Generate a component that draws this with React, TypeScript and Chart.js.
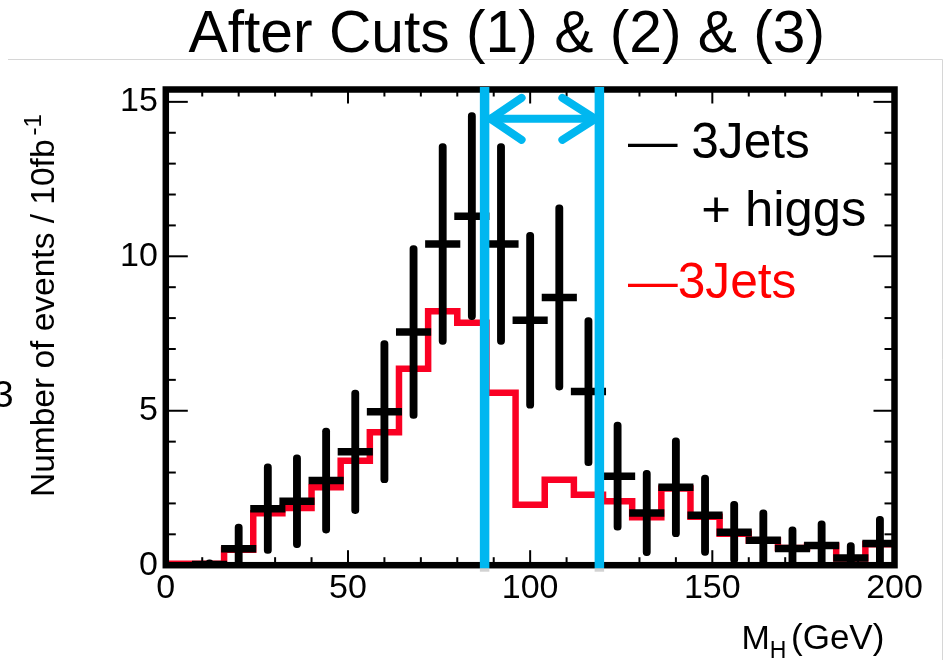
import React, { useEffect, useRef } from 'react';
import { Chart, registerables } from 'chart.js';

Chart.register(...registerables);

// ---- data ----
const binEdges = [0, 8, 16, 24, 32, 40, 48, 56, 64, 72, 80, 88, 96, 104, 112, 120, 128, 136, 144, 152, 160, 168, 176, 184, 192, 200];
const jetsOnly = [0.05, 0.05, 0.5, 1.68, 1.85, 2.52, 3.38, 4.3, 6.36, 8.22, 7.85, 5.58, 1.96, 2.77, 2.28, 2.07, 1.55, 2.48, 1.57, 1.02, 0.8, 0.56, 0.63, 0.22, 0.68];
const binCenters = [12, 20, 28, 36, 44, 52, 60, 68, 76, 84, 92, 100, 108, 116, 124, 132, 140, 148, 156, 164, 172, 180, 188, 196];
const jetsHiggs = [0.02, 0.53, 1.83, 2.07, 2.74, 3.67, 4.97, 7.55, 10.4, 11.3, 10.4, 7.93, 8.67, 5.62, 2.88, 1.69, 2.52, 1.62, 1.07, 0.81, 0.54, 0.64, 0.23, 0.7];
const jetsHiggsErr = [0.15, 0.8, 1.45, 1.5, 1.7, 2.0, 2.3, 2.8, 3.25, 3.35, 3.25, 2.85, 3.0, 2.4, 1.75, 1.38, 1.6, 1.3, 1.0, 0.98, 0.7, 0.8, 0.5, 0.88];
const xTickValues = [0, 50, 100, 150, 200];
const yTickValues = [0, 5, 10, 15];
const cutWindow = [87.5, 119];
const arrowLevel = 14.45;
const binWidth = 8;

const SANS = 'Liberation Sans';
const BLUE = 'rgb(0,183,240)';
const RED = 'rgb(250,0,35)';

function fitText(ctx: CanvasRenderingContext2D, text: string, inkLeft: number, baseline: number, inkWidth: number, color: string) {
  ctx.font = `100px "${SANS}"`;
  const m = ctx.measureText(text);
  const w = m.actualBoundingBoxLeft + m.actualBoundingBoxRight;
  const size = (100 * inkWidth) / w;
  const k = size / 100;
  ctx.font = `${size}px "${SANS}"`;
  ctx.fillStyle = color;
  ctx.textAlign = 'left';
  ctx.textBaseline = 'alphabetic';
  ctx.fillText(text, inkLeft + m.actualBoundingBoxLeft * k, baseline);
}

const decor = {
  id: 'decor',
  afterDatasetsDraw(chart: any) {
    const { ctx, chartArea: ca, scales } = chart;
    const x = scales.x;
    const y = scales.y;
    ctx.save();
    const seg = (x1: number, y1: number, x2: number, y2: number) => {
      ctx.beginPath();
      ctx.moveTo(x1, y1);
      ctx.lineTo(x2, y2);
      ctx.stroke();
    };
    // minor/major ticks inside the frame
    ctx.strokeStyle = '#000';
    ctx.lineWidth = 2;
    ctx.lineCap = 'butt';
    for (let v = 0; v <= 200; v += 10) {
      const px = x.getPixelForValue(v);
      const major = v % 50 === 0;
      seg(px, ca.bottom, px, ca.bottom - (major ? 15 : 8));
      seg(px, ca.top, px, ca.top + (major ? 14 : 7));
    }
    for (let v = 0; v <= 15; v += 1) {
      const py = y.getPixelForValue(v);
      const major = v % 5 === 0;
      seg(ca.left, py, ca.left + (major ? 22 : 10), py);
      seg(ca.right, py, ca.right - (major ? 21 : 10), py);
    }
    // frame
    ctx.lineWidth = 6.5;
    ctx.lineJoin = 'miter';
    ctx.strokeRect(ca.left, ca.top, ca.right - ca.left, ca.bottom - ca.top);

    // cut window lines
    const xl = x.getPixelForValue(cutWindow[0]);
    const xr = x.getPixelForValue(cutWindow[1]);
    ctx.fillStyle = '#d2d2d2';
    ctx.fillRect(xl - 4.75, ca.bottom + 3, 9.5, 3.5);
    ctx.fillRect(xr - 4.75, ca.bottom + 3, 9.5, 3.5);
    ctx.fillStyle = BLUE;
    ctx.fillRect(xl - 4.75, ca.top - 2.5, 9.5, ca.bottom - ca.top + 5.5);
    ctx.fillRect(xr - 4.75, ca.top - 2.5, 9.5, ca.bottom - ca.top + 5.5);

    // double arrow
    const ya = y.getPixelForValue(arrowLevel);
    ctx.strokeStyle = BLUE;
    ctx.lineWidth = 8;
    ctx.lineCap = 'round';
    ctx.lineJoin = 'round';
    seg(xl + 4, ya, xr - 4, ya);
    ctx.beginPath();
    ctx.moveTo(xl + 37, ya - 21);
    ctx.lineTo(xl + 6, ya);
    ctx.lineTo(xl + 37, ya + 21);
    ctx.stroke();
    ctx.beginPath();
    ctx.moveTo(xr - 37, ya - 21);
    ctx.lineTo(xr - 4, ya);
    ctx.lineTo(xr - 37, ya + 21);
    ctx.stroke();
    ctx.restore();
  },
  afterDraw(chart: any) {
    const { ctx } = chart;
    ctx.save();
    // slide edges
    ctx.strokeStyle = '#d6d6d6';
    ctx.lineWidth = 1;
    ctx.beginPath();
    ctx.moveTo(8, 59.5);
    ctx.lineTo(942.5, 59.5);
    ctx.lineTo(942.5, 660);
    ctx.stroke();

    // title
    fitText(ctx, 'After Cuts (1) & (2) & (3)', 188.5, 52, 633.5, '#000');
    // legend
    fitText(ctx, '\u2014 3Jets', 628, 158.3, 180.3, '#000');
    fitText(ctx, '+ higgs', 703.3, 226, 161.7, '#000');
    fitText(ctx, '\u20143Jets', 628, 298.3, 167, 'rgb(255,0,0)');

    // x axis title
    ctx.fillStyle = '#000';
    ctx.textAlign = 'left';
    ctx.textBaseline = 'alphabetic';
    ctx.font = `34px "${SANS}"`;
    ctx.fillText('M', 741.5, 649);
    const mw = ctx.measureText('M').width;
    ctx.font = `23px "${SANS}"`;
    ctx.fillText('H', 741.5 + mw, 658);
    ctx.font = `35px "${SANS}"`;
    ctx.fillText('(GeV)', 791, 649);

    // y axis title
    ctx.save();
    ctx.translate(53.5, 497);
    ctx.rotate(-Math.PI / 2);
    ctx.font = `33.5px "${SANS}"`;
    ctx.fillText('Number of events / 10fb', 0, 0);
    const tw = ctx.measureText('Number of events / 10fb').width;
    ctx.font = `24px "${SANS}"`;
    ctx.fillText('-1', tw + 4, -13);
    ctx.restore();

    // clipped fragment at the left edge
    ctx.font = `37px "${SANS}"`;
    ctx.fillText('3', -7, 407);
    ctx.restore();
  },
};

export default function App() {
  const ref = useRef<HTMLCanvasElement | null>(null);
  useEffect(() => {
    if (!ref.current) return;
    const redPoints = jetsOnly
      .map((v, i) => ({ x: binEdges[i], y: v }))
      .concat([{ x: binEdges[binEdges.length - 1], y: jetsOnly[jetsOnly.length - 1] }]);
    const errBars = binCenters.map((c, i) => ({ x: c, y: [jetsHiggs[i] - jetsHiggsErr[i], jetsHiggs[i] + jetsHiggsErr[i]] }));
    const centers = binCenters.map((c, i) => ({ x: c, y: jetsHiggs[i] }));

    const chart = new Chart(ref.current, {
      type: 'line',
      data: {
        datasets: [
          {
            type: 'line',
            label: '3Jets',
            data: redPoints,
            stepped: 'before',
            borderColor: RED,
            borderWidth: 6.5,
            borderJoinStyle: 'miter',
            borderCapStyle: 'butt',
            pointRadius: 0,
            fill: false,
            order: 3,
          } as any,
          {
            type: 'bar',
            label: 'err',
            data: errBars,
            backgroundColor: '#000',
            borderWidth: 0,
            barThickness: 7.2,
            borderRadius: 3.6,
            borderSkipped: false,
            grouped: false,
            order: 2,
          } as any,
          {
            type: 'scatter',
            label: '3Jets + higgs',
            data: centers,
            pointStyle: 'line',
            pointRadius: (c: any) => {
              const s = c.chart.scales.x;
              return (s.getPixelForValue(binWidth) - s.getPixelForValue(0)) / 2 + 3;
            },
            pointBorderColor: '#000',
            pointBorderWidth: 7.5,
            pointBackgroundColor: '#000',
            showLine: false,
            order: 1,
          } as any,
        ],
      },
      options: {
        responsive: false,
        animation: false,
        devicePixelRatio: 1,
        events: [],
        layout: { padding: { top: 89.5, right: 51.5, left: 0, bottom: 0 } },
        plugins: { legend: { display: false }, tooltip: { enabled: false }, title: { display: false } },
        scales: {
          x: {
            type: 'linear',
            min: 0,
            max: 200,
            offset: false,
            grid: { display: false, drawTicks: false },
            border: { display: false },
            afterBuildTicks: (s: any) => {
              s.ticks = xTickValues.map((v) => ({ value: v }));
            },
            afterFit: (s: any) => {
              s.height = 94.8;
            },
            ticks: {
              color: '#000',
              font: { family: SANS, size: 34 },
              padding: 3,
              maxRotation: 0,
              autoSkip: false,
            },
          },
          y: {
            type: 'linear',
            min: 0,
            max: 15.4,
            grid: { display: false, drawTicks: false },
            border: { display: false },
            afterBuildTicks: (s: any) => {
              s.ticks = yTickValues.map((v) => ({ value: v }));
            },
            afterFit: (s: any) => {
              s.width = 165.8;
            },
            ticks: {
              color: '#000',
              font: { family: SANS, size: 34 },
              padding: 8,
              autoSkip: false,
            },
          },
        },
      } as any,
      plugins: [decor],
    });
    return () => chart.destroy();
  }, []);

  return (
    <div style={{ position: 'absolute', left: 0, top: 0, width: 946, height: 660, background: '#fff' }}>
      <canvas ref={ref} width={946} height={660} style={{ display: 'block' }} />
    </div>
  );
}
